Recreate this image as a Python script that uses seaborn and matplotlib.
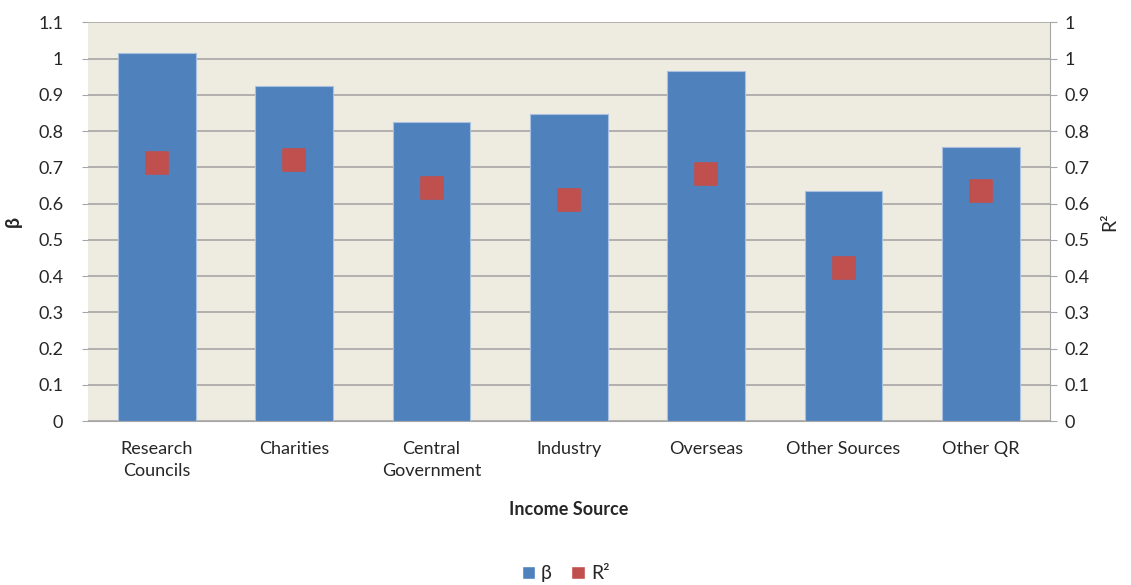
import matplotlib
matplotlib.use("Agg")
import matplotlib.pyplot as plt
import seaborn as sns
from matplotlib.patches import Patch

categories = ['Research\nCouncils', 'Charities', 'Central\nGovernment', 'Industry',
              'Overseas', 'Other Sources', 'Other QR']
beta = [1.014, 0.923, 0.825, 0.846, 0.965, 0.634, 0.755]
r2 = [0.712, 0.720, 0.642, 0.609, 0.681, 0.422, 0.634]
left_ticks = [0, 0.1, 0.2, 0.3, 0.4, 0.5, 0.6, 0.7, 0.8, 0.9, 1.0, 1.1]
left_labels = ['0', '0.1', '0.2', '0.3', '0.4', '0.5', '0.6', '0.7', '0.8', '0.9', '1', '1.1']
right_labels = ['0', '0.1', '0.2', '0.3', '0.4', '0.5', '0.6', '0.7', '0.8', '0.9', '1', '1']

sns.set_style("white")
plt.rcParams['font.family'] = ['Lato', 'DejaVu Sans']

blue = '#4F81BD'
red = '#C0504D'
grid = '#A6A6A6'

fig, ax = plt.subplots(figsize=(11.31, 5.85), dpi=100)
fig.subplots_adjust(left=0.078, right=0.928, top=0.962, bottom=0.28)

ax.set_facecolor('#EEEBE0')
sns.barplot(x=categories, y=beta, color=blue, width=0.565, saturation=1, ax=ax, zorder=3,
            edgecolor='#A9C1E0', linewidth=0.8)
ax.set_xlim(-0.5, 6.5)
ax.set_ylim(0, 1.1)
ax.set_yticks(left_ticks)
ax.set_yticklabels(left_labels, fontsize=13)
ax.yaxis.grid(True, color=grid, linewidth=1.2, zorder=0)
ax.set_axisbelow(True)
for s in ['left', 'top', 'right']:
    ax.spines[s].set_visible(False)
ax.spines['bottom'].set_color(grid)
ax.tick_params(axis='y', length=4, color=grid, pad=14)
ax.tick_params(axis='x', length=0, pad=14)
for t in ax.get_xticklabels():
    t.set_fontsize(13)
    t.set_linespacing(1.5)
ax.set_xlabel('Income Source', fontsize=13, fontweight='bold', labelpad=16)
ax.set_ylabel('β', fontsize=14, fontweight='bold', labelpad=12)

ax2 = ax.twinx()
sns.scatterplot(x=list(range(len(r2))), y=r2, marker='s', s=230, color=red,
                edgecolor=red, ax=ax2, zorder=5)
ax2.set_ylim(0, 1.1)
ax2.set_yticks(left_ticks)
ax2.set_yticklabels(right_labels, fontsize=13)
for s in ['left', 'top', 'bottom']:
    ax2.spines[s].set_visible(False)
ax2.spines['right'].set_color(grid)
ax2.tick_params(axis='y', length=5, color=grid, pad=6)
ax2.set_ylabel('R²', fontsize=14, labelpad=8)

handles = [Patch(facecolor=blue, label='β'), Patch(facecolor=red, label='R²')]
fig.legend(handles=handles, loc='lower center', ncol=2, frameon=False, fontsize=14,
           bbox_to_anchor=(0.5, -0.025), handlelength=0.7, handleheight=0.7,
           handletextpad=0.3, columnspacing=1.0)

plt.savefig('out.png', dpi=100)
